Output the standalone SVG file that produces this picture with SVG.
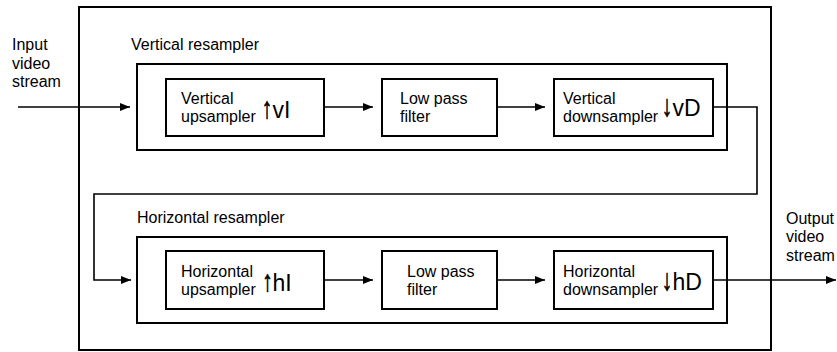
<svg xmlns="http://www.w3.org/2000/svg" width="837" height="352" viewBox="0 0 837 352">
<style>
  .box { fill: #fff; stroke: #000; stroke-width: 2; }
  .frame { fill: none; stroke: #000; stroke-width: 2; }
  .t { font-family: "Liberation Sans", Arial, sans-serif; font-size: 16px; fill: #000; }
  .sym { font-family: "Liberation Sans", Arial, sans-serif; font-size: 23px; fill: #000; }
  .arr { font-family: "Liberation Sans", Arial, sans-serif; font-size: 30px; fill: #000; stroke: #000; stroke-width: 0.7; text-anchor: middle; text-rendering: geometricPrecision; }
  .c { fill: none; stroke: #000; stroke-width: 1.6; }
</style>
<defs>
  <marker id="ah" markerUnits="userSpaceOnUse" markerWidth="10" markerHeight="8" refX="10" refY="4" orient="auto">
    <path d="M0,0 L10,4 L0,8 z" fill="#000"/>
  </marker>
</defs>
<rect id="system" class="frame" x="79" y="7" width="692" height="343"/>

<g id="input-label">
  <text class="t" x="12" y="50">Input</text>
  <text class="t" x="12" y="68.5">video</text>
  <text class="t" x="12" y="87">stream</text>
</g>
<g id="output-label">
  <text class="t" x="786" y="224">Output</text>
  <text class="t" x="786" y="242">video</text>
  <text class="t" x="786" y="260.5">stream</text>
</g>

<g id="vertical-resampler">
  <text class="t" x="131" y="50">Vertical resampler</text>
  <rect class="frame" x="137" y="64" width="590" height="86"/>
</g>
<g id="vertical-upsampler">
  <rect class="box" x="166" y="79" width="158" height="57"/>
  <text class="t" x="181" y="103.5">Vertical</text>
  <text class="t" x="181" y="121.5">upsampler</text>
  <text class="arr" transform="translate(267,118) scale(0.7,1)">↑</text>
  <text class="sym" x="272.5" y="118">vI</text>
</g>
<g id="vertical-lowpass">
  <rect class="box" x="382" y="79" width="115" height="57"/>
  <text class="t" x="400" y="104">Low pass</text>
  <text class="t" x="400" y="122">filter</text>
</g>
<g id="vertical-downsampler">
  <rect class="box" x="554" y="79" width="159" height="57"/>
  <text class="t" x="563" y="103.5">Vertical</text>
  <text class="t" x="563" y="121.5">downsampler</text>
  <text class="arr" transform="translate(667,116) scale(0.7,1)">↓</text>
  <text class="sym" x="672.5" y="116">vD</text>
</g>

<g id="horizontal-resampler">
  <text class="t" x="137" y="223">Horizontal resampler</text>
  <rect class="frame" x="137" y="237" width="590" height="86"/>
</g>
<g id="horizontal-upsampler">
  <rect class="box" x="166" y="251" width="158" height="58"/>
  <text class="t" x="181" y="276.5">Horizontal</text>
  <text class="t" x="181" y="295">upsampler</text>
  <text class="arr" transform="translate(267.5,291) scale(0.7,1)">↑</text>
  <text class="sym" x="272.5" y="291">hI</text>
</g>
<g id="horizontal-lowpass">
  <rect class="box" x="382" y="251" width="115" height="58"/>
  <text class="t" x="407" y="277">Low pass</text>
  <text class="t" x="407" y="295">filter</text>
</g>
<g id="horizontal-downsampler">
  <rect class="box" x="554" y="251" width="159" height="58"/>
  <text class="t" x="563" y="276.5">Horizontal</text>
  <text class="t" x="563" y="295">downsampler</text>
  <text class="arr" transform="translate(667,290) scale(0.7,1)">↓</text>
  <text class="sym" x="672.5" y="290">hD</text>
</g>

<g id="connectors">
  <line class="c" x1="18" y1="107" x2="130" y2="107" marker-end="url(#ah)"/>
  <line class="c" x1="324" y1="107" x2="373" y2="107" marker-end="url(#ah)"/>
  <line class="c" x1="497" y1="107" x2="545" y2="107" marker-end="url(#ah)"/>
  <polyline class="c" points="713,107 757,107 757,194 94,194 94,280 131,280" marker-end="url(#ah)"/>
  <line class="c" x1="324" y1="280" x2="373" y2="280" marker-end="url(#ah)"/>
  <line class="c" x1="497" y1="280" x2="545" y2="280" marker-end="url(#ah)"/>
  <line class="c" x1="713" y1="280" x2="836" y2="280" marker-end="url(#ah)"/>
</g>
</svg>
